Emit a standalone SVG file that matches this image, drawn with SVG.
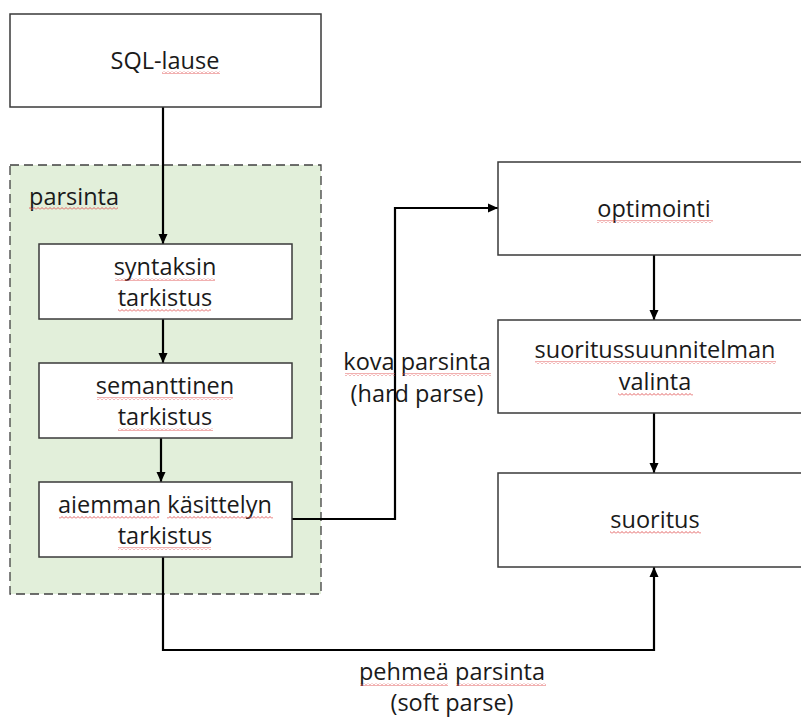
<svg xmlns="http://www.w3.org/2000/svg" width="801" height="718" viewBox="0 0 801 718">
<style>
.box{fill:#ffffff;stroke:#3a3a3a;stroke-width:1.5}
.grp{fill:#e2efda;stroke:#404040;stroke-width:1.3;stroke-dasharray:9 5}
.t{font-family:"Open Sans",Lato,"Liberation Sans",sans-serif;font-size:23.5px;fill:#1a1a1a;text-anchor:middle}
.tl{text-anchor:start}
.c{fill:none;stroke:#000;stroke-width:2.2}
.sq{fill:url(#sq)}
</style>
<defs>
<marker id="ah" viewBox="0 0 10 10" refX="10" refY="5" markerWidth="10" markerHeight="10" markerUnits="userSpaceOnUse" orient="auto">
<path d="M0,0.5 L10,5 L0,9.5 Z" fill="#000"/>
</marker>
<pattern id="sq" width="4" height="3" patternUnits="userSpaceOnUse">
<polyline points="0,2.5 2,0.5 4,2.5" fill="none" stroke="#e05050" stroke-width="0.9"/>
</pattern>
</defs>
<g id="parsinta">
<rect class="grp" x="10" y="165" width="311" height="429"/>
<text class="t tl" x="29" y="205">parsinta</text>
<rect class="sq" x="29" y="207" width="89" height="3"/>
</g>
<g id="connectors">
<line class="c" x1="163" y1="107" x2="163" y2="244" marker-end="url(#ah)"/>
<line class="c" x1="163" y1="319" x2="163" y2="363" marker-end="url(#ah)"/>
<line class="c" x1="161" y1="438" x2="161" y2="482" marker-end="url(#ah)"/>
<polyline class="c" points="292,519 395,519 395,208 498,208" marker-end="url(#ah)"/>
<polyline class="c" points="163,557 163,650 654,650 654,567" marker-end="url(#ah)"/>
<line class="c" x1="654" y1="255" x2="654" y2="320" marker-end="url(#ah)"/>
<line class="c" x1="654" y1="413" x2="654" y2="473" marker-end="url(#ah)"/>
</g>
<g id="sql">
<rect class="box" x="10" y="14" width="311" height="93"/>
<text class="t" x="165" y="69">SQL-lause</text>
<rect class="sq" x="162" y="71" width="58" height="3"/>
</g>
<g id="syntaksin">
<rect class="box" x="39" y="244" width="253" height="75"/>
<text class="t" x="165" y="275">syntaksin</text>
<text class="t" x="165" y="306">tarkistus</text>
<rect class="sq" x="115" y="278" width="100" height="3"/>
<rect class="sq" x="118" y="309" width="93" height="3"/>
</g>
<g id="semanttinen">
<rect class="box" x="39" y="363" width="253" height="75"/>
<text class="t" x="165" y="394">semanttinen</text>
<text class="t" x="165" y="425">tarkistus</text>
<rect class="sq" x="97" y="397" width="136" height="3"/>
<rect class="sq" x="118" y="428" width="95" height="3"/>
</g>
<g id="aiemman">
<rect class="box" x="39" y="482" width="253" height="75"/>
<text class="t" x="165" y="513">aiemman käsittelyn</text>
<text class="t" x="165" y="544">tarkistus</text>
<rect class="sq" x="59" y="516" width="100" height="3"/>
<rect class="sq" x="167" y="516" width="106" height="3"/>
<rect class="sq" x="118" y="547" width="93" height="3"/>
</g>
<g id="optimointi">
<rect class="box" x="498" y="162" width="320" height="93"/>
<text class="t" x="654" y="217">optimointi</text>
<rect class="sq" x="597" y="220" width="116" height="3"/>
</g>
<g id="suunnitelma">
<rect class="box" x="498" y="320" width="320" height="93"/>
<text class="t" x="655" y="358">suoritussuunnitelman</text>
<text class="t" x="655" y="390">valinta</text>
<rect class="sq" x="535" y="361" width="241" height="3"/>
<rect class="sq" x="618" y="393" width="75" height="3"/>
</g>
<g id="suoritus">
<rect class="box" x="498" y="473" width="320" height="94"/>
<text class="t" x="655" y="528">suoritus</text>
<rect class="sq" x="610" y="531" width="91" height="3"/>
</g>
<g id="labels">
<text class="t" x="417" y="370">kova parsinta</text>
<text class="t" x="417" y="402">(hard parse)</text>
<rect class="sq" x="345" y="373" width="50" height="3"/>
<rect class="sq" x="402" y="373" width="89" height="3"/>
<text class="t" x="452" y="680">pehmeä parsinta</text>
<text class="t" x="452" y="711">(soft parse)</text>
<rect class="sq" x="360" y="683" width="88" height="3"/>
<rect class="sq" x="456" y="683" width="90" height="3"/>
</g>
</svg>
